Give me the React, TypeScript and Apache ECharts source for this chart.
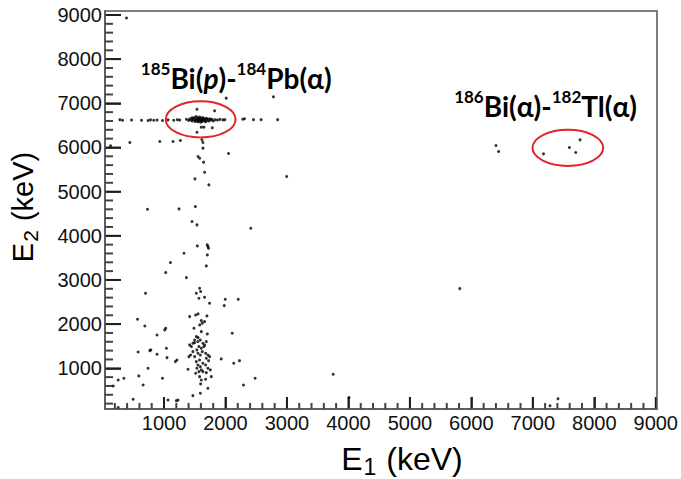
import React, { useEffect, useRef } from "react";
import * as echarts from "echarts";

// Axis ranges (keV)
const X_RANGE = [40, 9020];
const Y_RANGE = [78, 9090];
const TICK_STEP = 1000;
const MINOR_STEP = 200;

// 185Bi(p)-184Pb(alpha) horizontal band at E2 ~ 6620 keV
const bandPoints: number[][] = [
  [282, 6630], [326, 6615], [472, 6620], [634, 6615], [741, 6610], [780, 6625], [833, 6615],
  [887, 6620], [975, 6610], [1065, 6625], [1158, 6615], [1218, 6630], [1255, 6620],
  [2281, 6640], [2309, 6650], [2455, 6630], [2580, 6630], [2849, 6630],
];

// dense correlation cluster (inside the left ellipse)
const clusterPoints: number[][] = [
  [1365, 6640], [1400, 6610], [1420, 6650], [1440, 6620], [1455, 6670], [1460, 6600], [1475, 6640],
  [1490, 6680], [1500, 6620], [1505, 6590], [1515, 6650], [1525, 6700], [1530, 6610], [1540, 6640],
  [1548, 6580], [1555, 6670], [1560, 6620], [1568, 6650], [1575, 6600], [1580, 6690], [1588, 6630],
  [1595, 6570], [1600, 6660], [1610, 6610], [1615, 6640], [1622, 6590], [1630, 6680], [1640, 6625],
  [1650, 6655], [1660, 6600], [1670, 6640], [1680, 6580], [1690, 6660], [1700, 6615], [1715, 6640],
  [1730, 6600], [1745, 6650], [1760, 6620], [1780, 6640], [1800, 6600], [1830, 6630], [1870, 6620],
  [1910, 6635], [1960, 6625], [1990, 6630],
];

// points around the band and upper region
const upperPoints: number[][] = [
  [390, 8930], [1536, 6867], [1823, 6829], [2012, 7117], [2780, 7146], [1607, 6460], [1536, 6346],
  [1785, 6444], [1649, 6460], [130, 6040], [444, 6111], [931, 6134], [1147, 6134], [1266, 6156],
  [1617, 6172], [1633, 6111], [1633, 5984], [2050, 5862], [1554, 5794], [1580, 5757], [1644, 5667],
  [1660, 5440], [1503, 5289], [1730, 5153], [2995, 5341],
];

// vertical band E1 ~ 1600 keV, middle region
const middlePoints: number[][] = [
  [731, 4602], [1244, 4609], [1510, 4661], [1455, 4322], [1536, 4247], [2411, 4172], [1542, 3771],
  [1704, 3794], [1714, 3755], [1724, 3719], [1704, 3567], [1688, 3318], [1325, 3606], [1104, 3393],
  [1028, 3167], [1364, 3053], [699, 2700], [1579, 2813], [1596, 2738], [1526, 2700], [1660, 2609],
  [1568, 2587], [1741, 2473], [1996, 2564], [1980, 2419], [2207, 2564], [569, 2111], [688, 1959],
  [887, 1755], [1028, 1907], [1012, 1869], [1417, 2170], [1515, 2208], [1554, 2231], [1698, 2186],
  [1581, 1982], [1623, 2020], [1660, 2057], [1607, 2079], [1487, 1907], [1607, 1830], [1704, 1778],
  [1526, 1717], [1554, 1694], [1498, 1642], [2110, 1794],
];

// low-energy cluster around E1 ~ 1600 keV
const lowClusterPoints: number[][] = [
  [1417, 1529], [1445, 1491], [1470, 1567], [1498, 1581], [1552, 1604], [1591, 1642], [1633, 1567],
  [1660, 1529], [1688, 1604], [1568, 1491], [1607, 1454], [1649, 1491], [1535, 1416], [1470, 1377],
  [1433, 1302], [1406, 1264], [1498, 1264], [1552, 1341], [1591, 1302], [1622, 1377], [1677, 1341],
  [1714, 1302], [1742, 1264], [1725, 1173], [1688, 1228], [1579, 1189], [1526, 1151], [1552, 1076],
  [1591, 1037], [1633, 1114], [1677, 1076], [1714, 1001], [1753, 963], [1607, 963], [1535, 1001],
  [1568, 924], [1633, 924], [1688, 901], [1769, 811], [1579, 811], [1607, 736], [1677, 752],
  [1714, 548], [1596, 646], [1591, 435], [1470, 381], [1390, 978], [1515, 888],
];

// scattered low-energy events
const scatterPoints: number[][] = [
  [1039, 1454], [769, 1400], [785, 1416], [579, 1370], [887, 1318], [1049, 1241], [1211, 1189],
  [1185, 1151], [741, 1001], [590, 827], [347, 775], [255, 736], [174, 600], [660, 623], [975, 775],
  [498, 299], [1065, 283], [1202, 267], [1228, 283], [255, 109], [1931, 1212], [2135, 1114],
  [2228, 1173], [2293, 623], [2482, 775], [3752, 865], [4010, 340], [5812, 2804], [7410, 310],
  [7280, 150],
];

// 186Bi(alpha)-182Tl(alpha) correlations
const bi186Points: number[][] = [
  [6401, 6043], [6444, 5908], [7174, 5855], [7595, 5998], [7698, 5885], [7769, 6172],
];

// annotations (data coordinates)
const ellipse185 = { center: [1596, 6636], radius: [568, 408] };
const ellipse186 = { center: [7570, 5991], radius: [575, 408] };
const label185Anchor = [623, 7990];
const label186Anchor = [5720, 7355];

// tick positions along both axes (every 200 keV, majors every 1000 keV)
const xMajorTicks: number[] = [];
const xMinorTicks: number[] = [];
for (let v = Math.ceil(X_RANGE[0] / MINOR_STEP) * MINOR_STEP; v < X_RANGE[1]; v += MINOR_STEP) {
  (v % TICK_STEP === 0 ? xMajorTicks : xMinorTicks).push(v);
}
const yMajorTicks: number[] = [];
const yMinorTicks: number[] = [];
for (let v = Math.ceil(Y_RANGE[0] / MINOR_STEP) * MINOR_STEP; v < Y_RANGE[1]; v += MINOR_STEP) {
  (v % TICK_STEP === 0 ? yMajorTicks : yMinorTicks).push(v);
}

export default function App() {
  const ref = useRef<HTMLDivElement>(null);

  useEffect(() => {
    const chart = echarts.init(ref.current!, null, { renderer: "svg" });
    const font = "'Liberation Sans', Arial, Helvetica, sans-serif";
    const annFont = "Lato, 'Open Sans', sans-serif";
    const axisColor = "#555";
    const tickColor = "#111";
    const tw = 2;

    const allPoints = [
      ...bandPoints, ...clusterPoints, ...upperPoints, ...middlePoints,
      ...lowClusterPoints, ...scatterPoints, ...bi186Points,
    ];

    const axisCommon = {
      type: "value",
      minInterval: TICK_STEP, maxInterval: TICK_STEP,
      axisLine: { show: true, onZero: false, lineStyle: { color: axisColor, width: 1.5 } },
      splitLine: { show: false },
      minorTick: { show: false },
    };

    chart.setOption({
      animation: false,
      grid: { left: 105, right: 22, top: 11, bottom: 70 },
      xAxis: {
        ...axisCommon,
        min: X_RANGE[0], max: X_RANGE[1],
        axisTick: { show: true, inside: true, length: 12, lineStyle: { color: tickColor, width: 1.5 } },
        axisLabel: {
          showMinLabel: false, showMaxLabel: false, margin: 4,
          fontFamily: font, fontSize: 20, color: "#111",
          formatter: (v: number) => String(Math.round(v)),
        },
      },
      yAxis: {
        ...axisCommon,
        min: Y_RANGE[0], max: Y_RANGE[1],
        axisTick: { show: true, inside: true, length: 16, lineStyle: { color: tickColor, width: 1.5 } },
        axisLabel: {
          showMinLabel: false, showMaxLabel: false, margin: 3,
          fontFamily: font, fontSize: 20, color: "#111",
          formatter: (v: number) => String(Math.round(v)),
        },
      },
      series: [
        {
          id: "events",
          type: "scatter",
          data: allPoints,
          symbol: "circle",
          symbolSize: 3,
          itemStyle: { color: "#000" },
          silent: true,
        },
      ],
    });

    const px = (p: number[]) => chart.convertToPixel({ gridIndex: 0 }, p) as number[];
    const toData = (p: number[]) => chart.convertFromPixel({ gridIndex: 0 }, p) as number[];

    // tick marks as small rect symbols whose centres lie strictly inside the plot area
    const bottom = px([X_RANGE[0], Y_RANGE[0]])[1];
    const left = px([X_RANGE[0], Y_RANGE[0]])[0];
    const xTickY = (len: number) => toData([left + 50, bottom - len / 2])[1];
    const yTickX = (len: number) => toData([left + len / 2, bottom - 50])[0];
    const tickSeries = (id: string, data: number[][], size: number[]) => ({
      id,
      type: "scatter",
      silent: true,
      clip: false,
      data,
      symbol: "rect",
      symbolSize: size,
      itemStyle: { color: tickColor },
      z: 4,
    });

    const ellipse = (e: { center: number[]; radius: number[] }) => {
      const c = px(e.center);
      const r = px([e.center[0] + e.radius[0], e.center[1] + e.radius[1]]);
      return {
        type: "ellipse",
        silent: true,
        shape: { cx: c[0], cy: c[1], rx: Math.abs(r[0] - c[0]), ry: Math.abs(r[1] - c[1]) },
        style: { fill: "none", stroke: "#e5232b", lineWidth: 2 },
        z: 10,
      };
    };

    const tl = px([X_RANGE[0], Y_RANGE[1]]);
    const br = px([X_RANGE[1], Y_RANGE[0]]);

    const annRich = {
      b: { fontFamily: annFont, fontWeight: "bold", fontSize: 28, lineHeight: 32, verticalAlign: "bottom", color: "#000" },
      i: { fontFamily: annFont, fontWeight: "bold", fontStyle: "italic", fontSize: 28, lineHeight: 32, verticalAlign: "bottom", color: "#000" },
      sup: { fontFamily: annFont, fontWeight: "bold", fontSize: 17, lineHeight: 17, verticalAlign: "top", color: "#000" },
    };
    const l185 = px(label185Anchor);
    const l186 = px(label186Anchor);

    const titleRich = (size: number, sub: number, pad: number) => ({
      n: { fontFamily: font, fontSize: size, lineHeight: size + 7, color: "#111" },
      s: { fontFamily: font, fontSize: sub, lineHeight: sub, padding: [pad, 1, 0, 1], verticalAlign: "bottom", color: "#111" },
    });

    chart.setOption({
      series: [
        { id: "events" },
        tickSeries("xMajor", xMajorTicks.map((v) => [v, xTickY(12)]), [tw, 12]),
        tickSeries("xMinor", xMinorTicks.map((v) => [v, xTickY(6)]), [tw, 6]),
        tickSeries("yMajor", yMajorTicks.map((v) => [yTickX(16), v]), [16, tw]),
        tickSeries("yMinor", yMinorTicks.map((v) => [yTickX(8), v]), [8, tw]),
      ],
      graphic: [
        {
          type: "rect", silent: true, z: 9,
          shape: { x: tl[0], y: tl[1], width: br[0] - tl[0], height: br[1] - tl[1] },
          style: { fill: "none", stroke: axisColor, lineWidth: 1.5 },
        },
        ellipse(ellipse185),
        ellipse(ellipse186),
        {
          type: "text", silent: true, x: l185[0], y: l185[1], z: 10,
          style: {
            text: "{sup|185}{b|Bi(}{i|p}{b|)-}{sup|184}{b|Pb(α)}",
            rich: annRich, align: "left", verticalAlign: "top", textAlign: "left", textVerticalAlign: "top",
          },
        },
        {
          type: "text", silent: true, x: l186[0], y: l186[1], z: 10,
          style: {
            text: "{sup|186}{b|Bi(α)-}{sup|182}{b|Tl(α)}",
            rich: annRich, align: "left", verticalAlign: "top", textAlign: "left", textVerticalAlign: "top",
          },
        },
        {
          type: "text", silent: true, x: 402, y: 459,
          style: {
            text: "{n|E}{s|1}{n| (keV)}",
            rich: titleRich(32, 23, 16),
            align: "center", verticalAlign: "middle", textAlign: "center", textVerticalAlign: "middle",
          },
        },
        {
          type: "text", silent: true, x: 23, y: 207, rotation: Math.PI / 2,
          style: {
            text: "{n|E}{s|2}{n| (keV)}",
            rich: titleRich(29, 21, 15),
            align: "center", verticalAlign: "middle", textAlign: "center", textVerticalAlign: "middle",
          },
        },
      ],
    });

    return () => chart.dispose();
  }, []);

  return (
    <div
      ref={ref}
      style={{ position: "fixed", left: 0, top: 0, width: 681, height: 479, background: "#fff" }}
    />
  );
}
